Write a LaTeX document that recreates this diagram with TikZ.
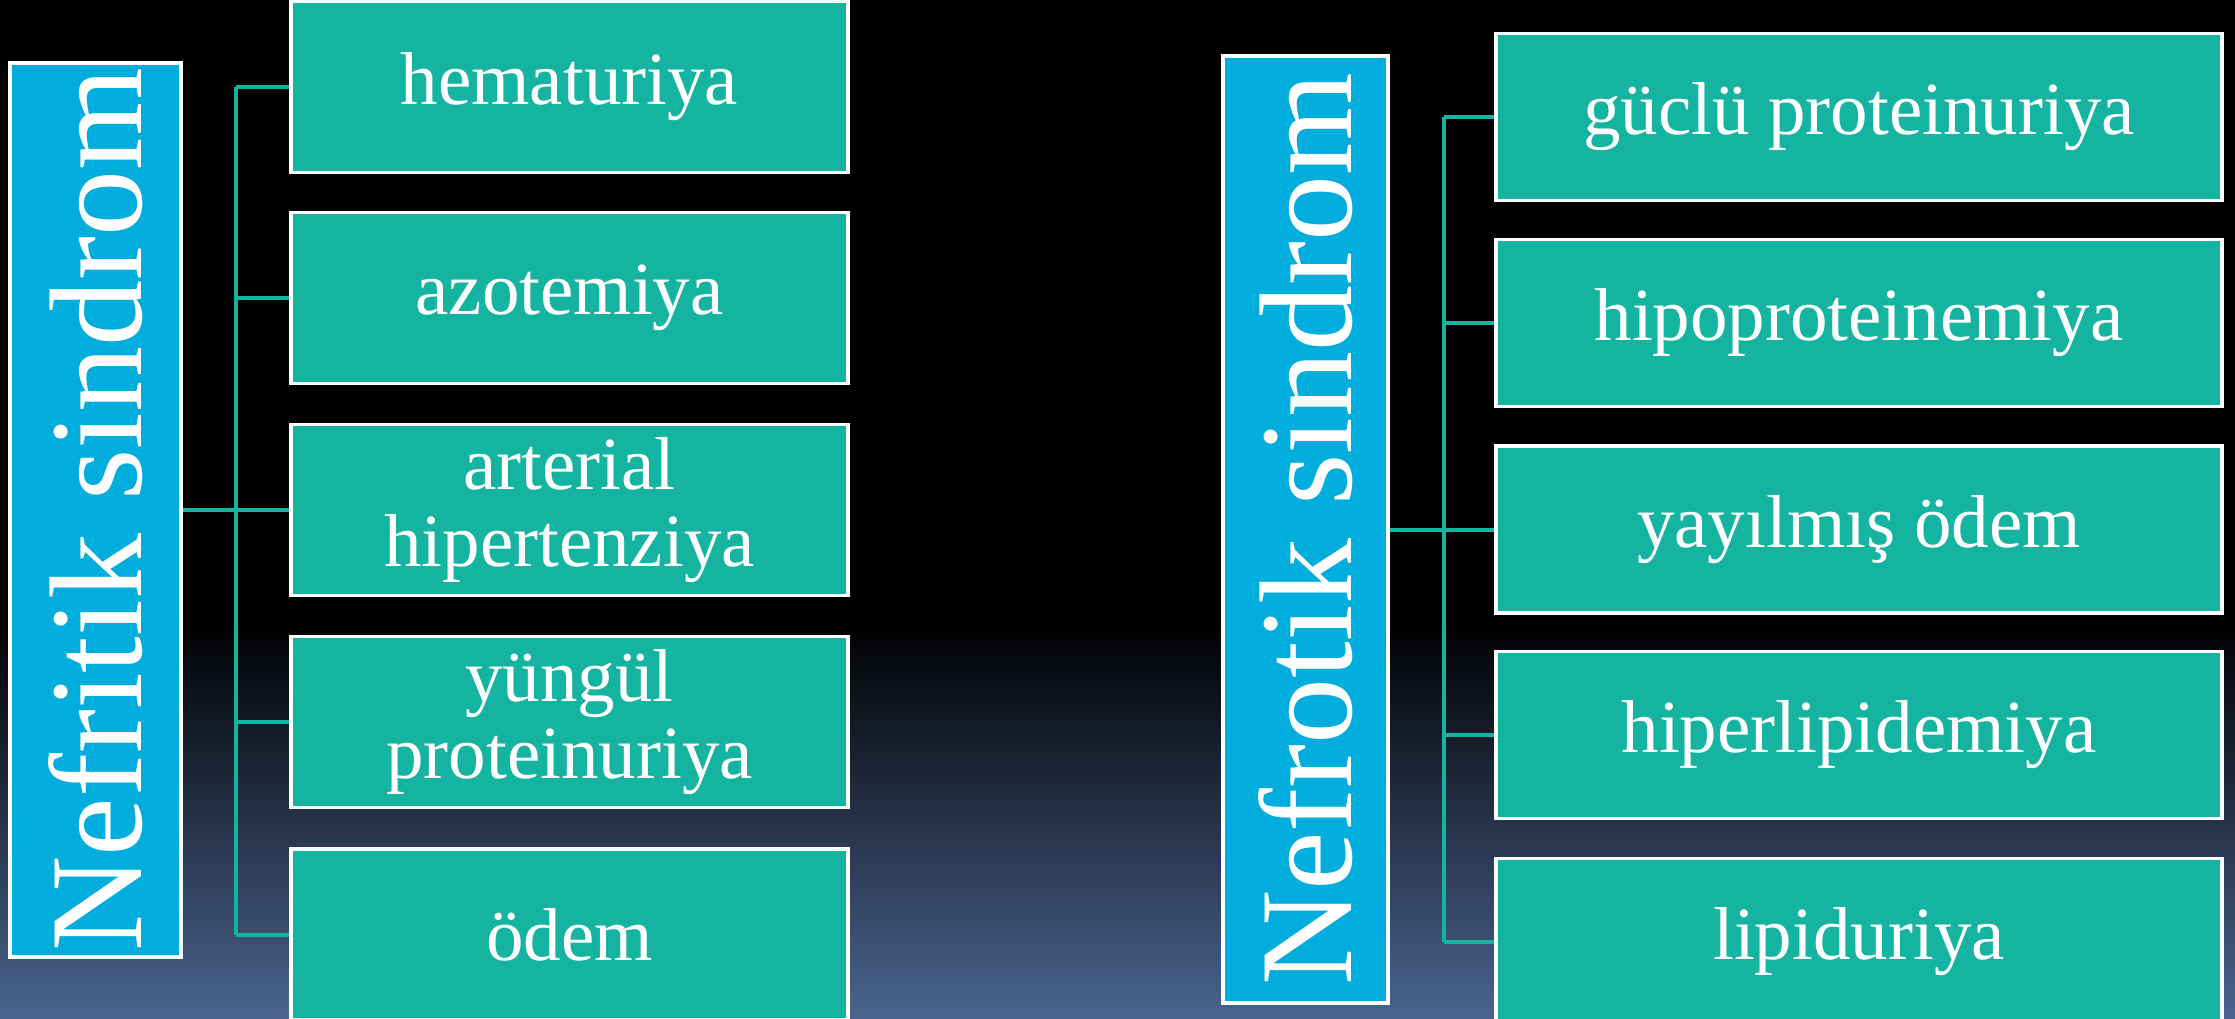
\documentclass[tikz,border=0pt]{standalone}
\usepackage{fontspec}
\setmainfont{Liberation Serif}
\definecolor{teal1}{RGB}{21,180,160}
\definecolor{blue1}{RGB}{0,173,220}
\definecolor{bgbot}{RGB}{74,99,142}
\tikzset{
  item/.style={draw=white, line width=3.5pt, fill=teal1, text=white, inner sep=0pt,
    align=center, font=\fontsize{75}{77}\selectfont},
  leftitem/.style={item, minimum width=557pt, minimum height=171pt},
  rightitem/.style={item, minimum width=726pt, minimum height=167pt},
  headbox/.style={draw=white, line width=3.5pt, fill=blue1, inner sep=0pt},
  headtext/.style={rotate=90, text=white, inner sep=0pt, font=\fontsize{132}{140}\selectfont},
  conn/.style={draw=teal1, line width=4pt}
}
\begin{document}
\begin{tikzpicture}[x=1pt,y=-1pt]
\useasboundingbox (0,0) rectangle (2235,1018);
\fill[black] (0,0) rectangle (2235,1018);
\shade[top color=black, bottom color=bgbot] (0,620) rectangle (2235,1018);

% left group
\node[headbox, minimum width=171pt, minimum height=894pt] (hl) at (95.5,510) {};
\node[headtext] (hlt) at (hl.center) {Nefritik sindrom};
\node[leftitem] (l1) at (569.5,87) {hematuriya};
\node[leftitem] (l2) at (569.5,298) {azotemiya};
\node[leftitem] (l3) at (569.5,510) {arterial\\hipertenziya};
\node[leftitem] (l4) at (569.5,722) {yüngül\\proteinuriya};
\node[leftitem] (l5) at (569.5,934.5) {ödem};
\coordinate (jl) at (236,510);
\draw[conn] (hl.east) -- (jl);
\draw[conn] (jl |- l1.west) -- (jl |- l5.west);
\foreach \n in {l1,l2,l3,l4,l5} \draw[conn] (jl |- \n.west) -- (\n.west);

% right group
\node[headbox, minimum width=165pt, minimum height=947pt] (hr) at (1305.5,529.5) {};
\node[headtext] (hrt) at (hr.center) {Nefrotik sindrom};
\node[rightitem] (r1) at (1859,117) {güclü proteinuriya};
\node[rightitem] (r2) at (1859,323) {hipoproteinemiya};
\node[rightitem] (r3) at (1859,529.5) {yayılmış ödem};
\node[rightitem] (r4) at (1859,735) {hiperlipidemiya};
\node[rightitem] (r5) at (1859,942) {lipiduriya};
\coordinate (jr) at (1444,529.5);
\draw[conn] (hr.east) -- (jr);
\draw[conn] (jr |- r1.west) -- (jr |- r5.west);
\foreach \n in {r1,r2,r3,r4,r5} \draw[conn] (jr |- \n.west) -- (\n.west);
\end{tikzpicture}
\end{document}
